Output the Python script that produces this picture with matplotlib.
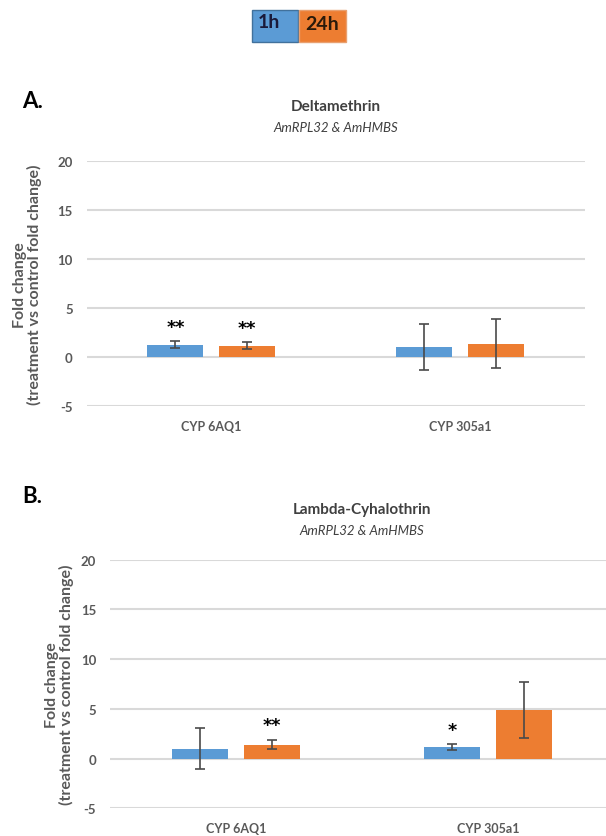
import matplotlib.pyplot as plt
import matplotlib.patches as mpatches
import numpy as np

# data
genes = ['CYP 6AQ1', 'CYP 305a1']

delta_1h = [1.3, 1.05]
delta_1h_err = [0.35, 2.3]
delta_24h = [1.2, 1.4]
delta_24h_err = [0.33, 2.5]
delta_1h_sig = ['**', '']
delta_24h_sig = ['**', '']

lambda_1h = [1.0, 1.13]
lambda_1h_err = [2.1, 0.3]
lambda_24h = [1.4, 4.85]
lambda_24h_err = [0.47, 2.8]
lambda_1h_sig = ['', '*']
lambda_24h_sig = ['**', '']

yticks = [-5, 0, 5, 10, 15, 20]

BLUE = '#5B9BD5'
ORANGE = '#ED7D31'
GRID = '#D9D9D9'
TXT = '#595959'

plt.rcParams['font.family'] = ['Lato', 'DejaVu Sans']

W, H = 606, 837
fig = plt.figure(figsize=(W / 100, H / 100), dpi=100)


def px(x0, y0, x1, y1):
    # pixel box (top-left origin) -> figure fraction rect
    return [x0 / W, 1 - y1 / H, (x1 - x0) / W, (y1 - y0) / H]


def panel(rect, v1, e1, v24, e24, s1, s24, lpad):
    ax = fig.add_axes(rect)
    x = np.arange(len(genes))
    bw = 0.225
    off = 0.143
    ax.bar(x - off, v1, bw, color=BLUE, zorder=3)
    ax.bar(x + off, v24, bw, color=ORANGE, zorder=3)
    ax.errorbar(x - off, v1, yerr=e1, fmt='none', ecolor='#4a4a4a',
                elinewidth=1.2, capsize=3.5, capthick=1.2, zorder=4)
    ax.errorbar(x + off, v24, yerr=e24, fmt='none', ecolor='#4a4a4a',
                elinewidth=1.2, capsize=3.5, capthick=1.2, zorder=4)
    for xs, vals, errs, sigs in [(x - off, v1, e1, s1), (x + off, v24, e24, s24)]:
        for xi, v, e, s in zip(xs, vals, errs, sigs):
            if s:
                ax.annotate(s, (xi, v + e), xytext=(0, 4), textcoords='offset points',
                            ha='center', va='bottom', fontsize=12.5, fontweight='bold',
                            color='black', family='DejaVu Sans')
    ax.set_xlim(-0.5, len(genes) - 0.5)
    ax.set_ylim(-5, 20)
    ax.set_yticks(yticks)
    ax.set_yticklabels([str(t) for t in yticks])
    ax.set_xticks(x)
    ax.set_xticklabels(genes)
    ax.grid(axis='y', color=GRID, linewidth=1.5, zorder=0)
    for sp in ax.spines.values():
        sp.set_visible(False)
    ax.tick_params(axis='both', length=0, colors=TXT)
    ax.tick_params(axis='y', pad=10, labelsize=9.5)
    ax.tick_params(axis='x', pad=10, labelsize=9)
    for lab in ax.get_xticklabels() + ax.get_yticklabels():
        lab.set_fontweight('bold')
    ax.set_ylabel('Fold change\n(treatment vs control fold change)', color=TXT,
                  fontsize=11.5, fontweight='bold', labelpad=lpad, linespacing=1.0)
    return ax


axA = panel(px(86.5, 162, 584.5, 407.4), delta_1h, delta_1h_err, delta_24h,
            delta_24h_err, delta_1h_sig, delta_24h_sig, 11)
axB = panel(px(110, 560.5, 614, 809.3), lambda_1h, lambda_1h_err, lambda_24h,
            lambda_24h_err, lambda_1h_sig, lambda_24h_sig, 5)

# titles
fig.text(335.5 / W, 1 - 107 / H, 'Deltamethrin', ha='center', va='center',
         fontsize=11, fontweight='bold', color='#404040')
fig.text(335.5 / W, 1 - 128 / H, 'AmRPL32 & AmHMBS', ha='center', va='center',
         fontsize=9.5, style='italic', color='#404040')
fig.text(362 / W, 1 - 510 / H, 'Lambda-Cyhalothrin', ha='center', va='center',
         fontsize=11, fontweight='bold', color='#404040')
fig.text(362 / W, 1 - 531 / H, 'AmRPL32 & AmHMBS', ha='center', va='center',
         fontsize=9.5, style='italic', color='#404040')

# panel letters
fig.text(22 / W, 1 - 101 / H, 'A.', ha='left', va='center', fontsize=16,
         fontweight='bold', color='black')
fig.text(22 / W, 1 - 497 / H, 'B.', ha='left', va='center', fontsize=16,
         fontweight='bold', color='black')

# legend boxes at top
fig.patches.append(mpatches.Rectangle((252 / W, 1 - 43 / H), 46 / W, 32 / H,
                                      transform=fig.transFigure, facecolor=BLUE,
                                      edgecolor='#41719C', linewidth=1))
fig.patches.append(mpatches.Rectangle((299 / W, 1 - 43 / H), 47 / W, 32 / H,
                                      transform=fig.transFigure, facecolor=ORANGE,
                                      edgecolor='#E8A070', linewidth=1))
fig.text(269 / W, 1 - 22 / H, '1h', ha='center', va='center', fontsize=14,
         fontweight='bold', color='#1a1a3a')
fig.text(322 / W, 1 - 25 / H, '24h', ha='center', va='center', fontsize=14,
         fontweight='bold', color='#2a1a0a')

fig.savefig('out.png', dpi=100)
